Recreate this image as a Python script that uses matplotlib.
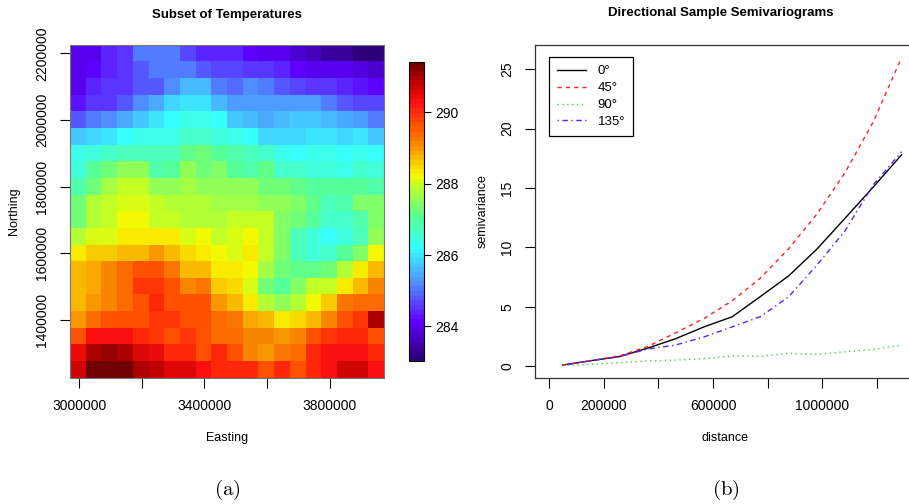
import numpy as np
import matplotlib
matplotlib.use("Agg")
import matplotlib.pyplot as plt
from matplotlib.colors import LinearSegmentedColormap

plt.rcParams['font.family'] = ['Liberation Sans', 'DejaVu Sans']
plt.rcParams['mathtext.fontset'] = 'cm'

# ---------------- temperature subset (rows from north to south) ----------------
temp_rows = [
    [284.0, 284.0, 284.4, 284.6, 285.0, 285.0, 285.0, 284.7, 284.4, 284.35, 284.35, 284.2, 284.0, 284.0, 283.8, 283.6, 283.4, 283.3, 283.15, 283.1],
    [284.0, 284.2, 284.35, 284.6, 284.8, 285.1, 285.0, 285.0, 284.8, 284.65, 284.65, 284.6, 284.5, 284.35, 284.2, 284.0, 284.0, 284.0, 283.9, 283.75],
    [284.0, 284.35, 284.5, 284.6, 284.85, 284.85, 285.2, 285.6, 285.6, 285.1, 284.95, 285.2, 285.0, 284.85, 284.7, 284.55, 284.55, 284.4, 284.3, 284.1],
    [284.3, 284.5, 284.55, 284.85, 285.2, 285.4, 285.9, 286.0, 286.0, 285.6, 285.3, 285.3, 285.3, 285.3, 285.3, 285.3, 285.1, 284.8, 284.7, 284.7],
    [284.85, 285.0, 285.2, 285.5, 285.7, 286.0, 286.2, 286.4, 286.4, 286.2, 285.7, 285.6, 285.4, 285.6, 285.7, 285.7, 285.6, 285.5, 285.3, 285.1],
    [285.7, 285.9, 286.0, 286.2, 286.35, 286.35, 286.4, 286.6, 286.65, 286.5, 286.35, 286.2, 285.9, 285.9, 285.9, 286.0, 286.0, 285.9, 286.0, 285.7],
    [286.35, 286.5, 286.6, 286.75, 286.75, 286.75, 286.75, 287.1, 287.25, 287.0, 286.9, 286.8, 286.6, 286.4, 286.2, 286.35, 286.35, 286.2, 286.35, 286.2],
    [286.5, 287.0, 287.25, 287.55, 287.55, 286.85, 287.0, 287.6, 287.25, 287.4, 287.0, 286.85, 287.1, 286.7, 286.6, 286.5, 286.5, 286.4, 286.7, 286.5],
    [286.95, 287.25, 287.7, 288.0, 288.0, 287.5, 287.5, 287.7, 287.5, 287.5, 287.5, 287.5, 287.35, 287.35, 287.1, 287.0, 287.0, 287.0, 287.0, 286.95],
    [287.25, 287.75, 288.0, 288.1, 288.1, 288.0, 287.8, 287.8, 287.75, 287.7, 287.7, 287.65, 287.6, 287.55, 287.4, 287.1, 286.8, 286.95, 287.4, 287.4],
    [287.25, 287.75, 288.0, 288.2, 288.2, 288.0, 287.9, 287.85, 287.75, 287.85, 287.9, 287.9, 288.0, 287.4, 287.25, 287.0, 286.7, 286.7, 286.9, 287.4],
    [287.8, 288.1, 288.1, 288.35, 288.35, 288.35, 288.3, 288.1, 288.2, 288.0, 288.1, 288.2, 288.0, 287.45, 286.8, 286.55, 286.3, 286.45, 286.8, 287.5],
    [288.3, 288.55, 288.55, 288.75, 288.75, 288.95, 288.75, 288.5, 288.4, 288.2, 288.1, 288.3, 288.0, 287.4, 286.8, 286.45, 286.6, 287.0, 287.4, 288.2],
    [288.7, 288.8, 289.1, 289.45, 289.6, 289.6, 289.25, 288.75, 288.75, 288.4, 288.3, 288.2, 287.7, 287.25, 287.1, 287.1, 287.25, 287.75, 288.4, 288.7],
    [288.7, 288.8, 289.1, 289.45, 289.85, 289.85, 289.65, 289.1, 289.25, 288.55, 288.45, 288.1, 287.25, 287.0, 287.4, 288.0, 288.0, 288.4, 288.75, 289.1],
    [288.7, 288.95, 289.1, 289.45, 289.7, 290.0, 289.7, 289.6, 289.6, 288.95, 288.7, 288.4, 287.8, 287.5, 287.8, 288.2, 288.55, 289.25, 289.45, 289.45],
    [288.95, 289.45, 289.6, 289.7, 289.7, 289.85, 289.85, 289.6, 289.7, 289.45, 289.25, 288.8, 288.7, 288.4, 288.5, 288.7, 289.1, 289.65, 289.85, 290.9],
    [289.7, 290.25, 290.25, 290.25, 290.1, 289.85, 289.7, 289.9, 289.7, 289.45, 289.45, 289.1, 289.1, 288.95, 289.1, 289.6, 289.85, 290.1, 290.1, 289.6],
    [290.4, 290.95, 291.05, 290.9, 290.6, 290.4, 290.0, 290.0, 289.6, 290.0, 289.6, 289.1, 289.05, 289.2, 289.45, 290.0, 290.25, 290.25, 290.25, 290.0],
    [290.75, 291.3, 291.4, 291.4, 291.0, 290.8, 290.6, 290.6, 290.25, 290.0, 290.0, 290.0, 289.7, 290.0, 289.7, 290.0, 290.25, 290.75, 290.75, 290.25],
]
easting_range = (2971000, 3973000)
northing_range = (1227000, 2226000)
temp_limits = (283.03, 291.42)
easting_ticks = [3000000, 3200000, 3400000, 3600000, 3800000]
easting_labels = ["3000000", "", "3400000", "", "3800000"]
northing_ticks = [1400000, 1600000, 1800000, 2000000, 2200000]
colorbar_ticks = [284, 286, 288, 290]

# ---------------- directional sample semivariograms ----------------
lag_distance = [50000, 153000, 257000, 360000, 463000, 567000, 670000,
                773000, 877000, 980000, 1083000, 1187000, 1290000]
gamma_0 = [0.08, 0.45, 0.8, 1.5, 2.3, 3.3, 4.15, 5.85, 7.6, 9.85, 12.45, 15.1, 17.8]
gamma_45 = [0.08, 0.45, 0.85, 1.63, 2.8, 4.0, 5.5, 7.4, 9.9, 12.8, 16.3, 20.6, 26.0]
gamma_90 = [0.05, 0.14, 0.28, 0.42, 0.5, 0.62, 0.84, 0.82, 1.07, 0.98, 1.2, 1.4, 1.77]
gamma_135 = [0.08, 0.45, 0.78, 1.43, 1.77, 2.45, 3.3, 4.16, 5.84, 8.5, 11.4, 15.3, 18.05]
direction_labels = ["0°", "45°", "90°", "135°"]
dist_ticks = [0, 200000, 400000, 600000, 800000, 1000000, 1200000]
dist_labels = ["0", "200000", "", "600000", "", "1000000", ""]
gamma_ticks = [0, 5, 10, 15, 20, 25]

W, H = 909, 504
fig = plt.figure(figsize=(W / 100, H / 100), dpi=100)


def box(x0, y0, x1, y1):
    return [x0 / W, 1 - y1 / H, (x1 - x0) / W, (y1 - y0) / H]


# palette running from indigo through blue, cyan, green, yellow, orange to dark red
pal_anchor = [283.03, 284.1, 285.15, 286.2, 287.1, 288.0, 288.25, 288.7, 289.2, 289.7, 290.3, 290.9, 291.42]
pal_color = ["#2D007A", "#5E00FF", "#508CFF", "#38FFFF", "#58FF90", "#C8FF20", "#F8F800",
             "#F8C000", "#F88000", "#FF5000", "#FF1010", "#C00000", "#700000"]
lo, hi = temp_limits
cmap = LinearSegmentedColormap.from_list(
    "temps", [((v - lo) / (hi - lo), c) for v, c in zip(pal_anchor, pal_color)], N=64)

ax1 = fig.add_axes(box(70, 44.7, 384, 377.7))
grid = np.array(temp_rows)[::-1]
xe = np.linspace(*easting_range, grid.shape[1] + 1)
ye = np.linspace(*northing_range, grid.shape[0] + 1)
mesh = ax1.pcolormesh(xe, ye, grid, cmap=cmap, vmin=lo, vmax=hi, shading="flat")
ax1.set_xlim(*easting_range)
ax1.set_ylim(*northing_range)
ax1.set_xticks(easting_ticks)
ax1.set_xticklabels(easting_labels)
ax1.set_yticks(northing_ticks)
ax1.set_yticklabels([str(t) for t in northing_ticks], rotation=90, va="center")
ax1.tick_params(axis="both", length=7, width=0.8, labelsize=10, pad=8)
for s in ax1.spines.values():
    s.set_color("#777777")
    s.set_linewidth(0.8)
ax1.set_title("Subset of Temperatures", fontsize=9.5, fontweight="bold", pad=0,
              y=(377.7 - 18) / 333)
ax1.set_xlabel("Easting", fontsize=9, labelpad=14)
ax1.set_ylabel("Northing", fontsize=9, labelpad=11)

cax = fig.add_axes(box(409, 61.7, 424, 361))
cb = fig.colorbar(mesh, cax=cax, ticks=colorbar_ticks)
cb.outline.set_linewidth(0.8)
cax.tick_params(length=5, width=0.8, labelsize=10, pad=3)

# right panel extends a little past the right edge of the canvas
ax2 = fig.add_axes(box(535, 45, 915.7, 378))
ax2.plot(lag_distance, gamma_0, color="black", lw=1.0, ls="-", label=direction_labels[0])
ax2.plot(lag_distance, gamma_45, color="#FF2020", lw=1.0, ls=(0, (3, 3)), label=direction_labels[1])
ax2.plot(lag_distance, gamma_90, color="#40D040", lw=1.0, ls=(0, (1, 2.5)), label=direction_labels[2])
ax2.plot(lag_distance, gamma_135, color="#6020FF", lw=1.0, ls=(0, (1, 2.5, 4, 2.5)), label=direction_labels[3])
ax2.set_xlim(-51600, 1341600)
ax2.set_ylim(-1.01, 27.05)
ax2.set_xticks(dist_ticks)
ax2.set_xticklabels(dist_labels)
ax2.set_yticks(gamma_ticks)
ax2.set_yticklabels([str(t) for t in gamma_ticks], rotation=90, va="center")
ax2.tick_params(axis="both", length=7, width=0.8, labelsize=10, pad=8)
for s in ax2.spines.values():
    s.set_color("#333333")
    s.set_linewidth(0.9)
fig.text(721 / W, 1 - 13 / H, "Directional Sample Semivariograms", fontsize=9.5,
         fontweight="bold", ha="center", va="center")
ax2.set_xlabel("distance", fontsize=9, labelpad=14)
ax2.set_ylabel("semivariance", fontsize=9, labelpad=8)
leg = ax2.legend(loc="upper left", bbox_to_anchor=((549 - 535) / 380.7, (378 - 57.3) / 333),
                 borderaxespad=0, fancybox=False, edgecolor="black", fontsize=9.5,
                 handlelength=2.2, handletextpad=0.9, borderpad=0.6, labelspacing=0.35,
                 framealpha=1)
leg.get_frame().set_linewidth(0.9)

fig.text(227 / W, 1 - 490 / H, r"$\mathrm{(a)}$", fontsize=15, ha="center", va="center")
fig.text(726 / W, 1 - 490 / H, r"$\mathrm{(b)}$", fontsize=15, ha="center", va="center")

fig.savefig("out.png", dpi=100)
